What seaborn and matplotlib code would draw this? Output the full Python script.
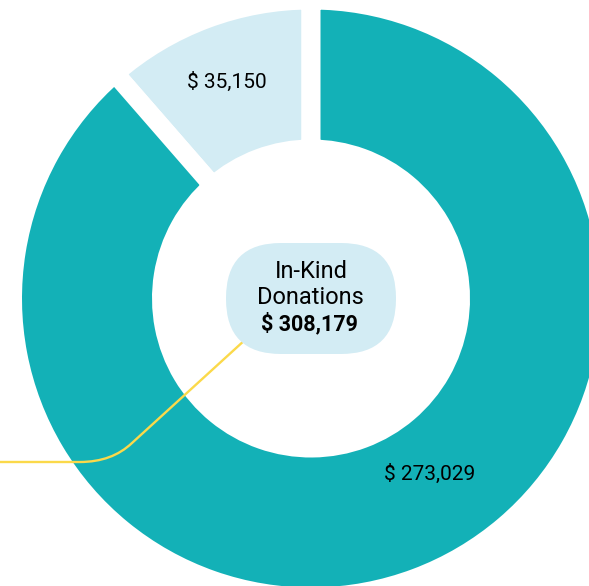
import numpy as np
import matplotlib
matplotlib.use("Agg")
import matplotlib.pyplot as plt
import seaborn as sns
from matplotlib.patches import FancyBboxPatch, PathPatch
from matplotlib.path import Path

# Data
categories = ["Other", "Main"]
values = [35150, 273029]
value_labels = ["$ 35,150", "$ 273,029"]
colors = ["#d3ecf4", "#13b1b7"]
center_title = ["In-Kind", "Donations"]
total = sum(values)

sns.set_style("white")
plt.rcParams["font.family"] = ["Roboto", "DejaVu Sans"]

W, H = 589, 586
fig = plt.figure(figsize=(W / 100, H / 100), dpi=100)
ax = fig.add_axes([0, 0, 1, 1])

# pixel helper (y measured from top of the picture)
def px(x, y):
    return (x, H - y)

cx, cy = px(311, 298.5)
gap = 19  # white gap between slices, px
r_out = 289 + gap / 2
r_in = 159 - gap / 2

wedges, _ = ax.pie(values, colors=colors, startangle=90, counterclock=True,
                   center=(cx, cy), radius=r_out,
                   wedgeprops=dict(width=r_out - r_in, edgecolor="white",
                                   linewidth=gap * 72 / 100, joinstyle="miter"))

ax.set_xlim(0, W)
ax.set_ylim(0, H)
ax.set_aspect("equal")
ax.axis("off")

# Leader line
verts = [px(246, 339), px(132, 443), px(112, 462), px(80, 462), px(0, 462)]
codes = [Path.MOVETO, Path.LINETO, Path.CURVE3, Path.CURVE3, Path.LINETO]
ax.add_patch(PathPatch(Path(verts, codes), facecolor="none",
                       edgecolor="#fbd94a", linewidth=1.7, zorder=3))

# Centre pill
bw, bh = 170, 111
ax.add_patch(FancyBboxPatch((cx - bw / 2, cy - bh / 2), bw, bh,
                            boxstyle="round,pad=0,rounding_size=55",
                            facecolor="#d3ecf4", edgecolor="none", zorder=4))
ax.text(*px(311, 272), center_title[0], ha="center", va="center",
        fontsize=17, color="#000000", zorder=5)
ax.text(*px(310, 297), center_title[1], ha="center", va="center",
        fontsize=17, color="#000000", zorder=5)
ax.text(*px(309, 324), f"$ {total:,}", ha="center", va="center",
        fontsize=15.5, fontweight="bold", color="#000000", zorder=5)

# Slice labels
ax.text(*px(227, 82), value_labels[0], ha="center", va="center",
        fontsize=15, color="#000000", zorder=5)
ax.text(*px(430, 474), value_labels[1], ha="center", va="center",
        fontsize=15, color="#000000", zorder=5)

fig.savefig("out.png", dpi=100)
